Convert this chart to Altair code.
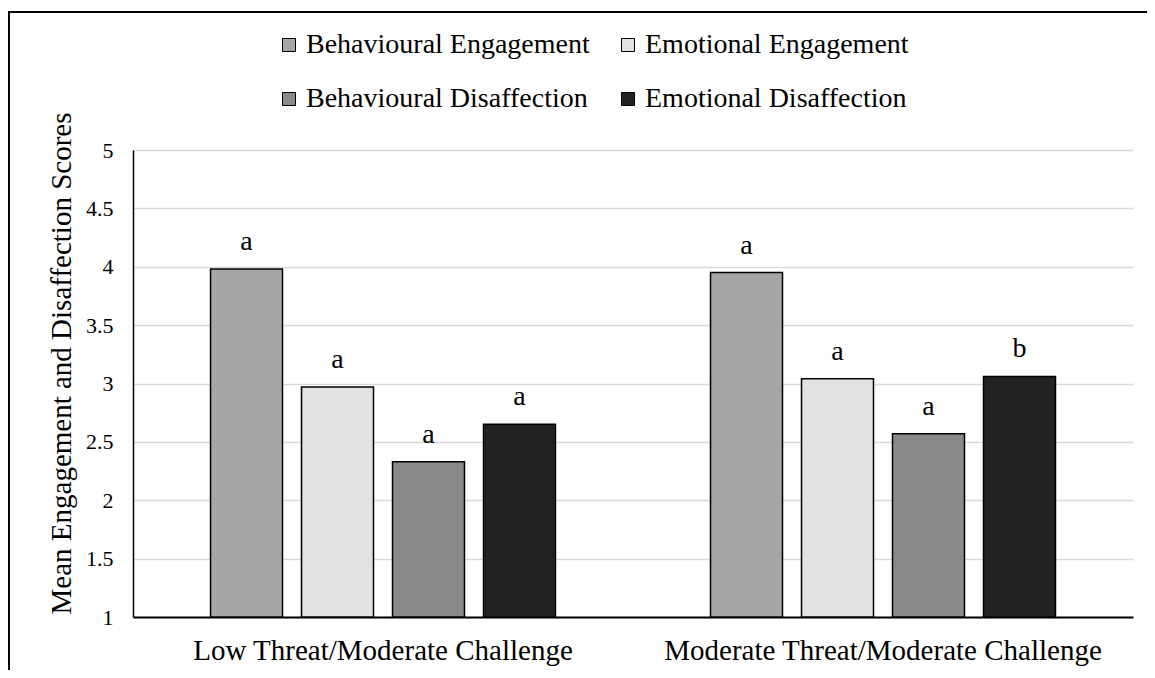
import altair as alt
import pandas as pd

groups = ["Low Threat/Moderate Challenge", "Moderate Threat/Moderate Challenge"]
series = ["Behavioural Engagement", "Emotional Engagement",
          "Behavioural Disaffection", "Emotional Disaffection"]
low_values = [3.98, 2.97, 2.33, 2.65]
moderate_values = [3.95, 3.04, 2.57, 3.06]
low_letters = ["a", "a", "a", "a"]
moderate_letters = ["a", "a", "a", "b"]
y_ticks = [1, 1.5, 2, 2.5, 3, 3.5, 4, 4.5, 5]
series_colors = ["#a6a6a6", "#e2e2e2", "#8a8a8a", "#222222"]

rows = []
for g, vals, lets in [(groups[0], low_values, low_letters),
                      (groups[1], moderate_values, moderate_letters)]:
    for s, v, l in zip(series, vals, lets):
        rows.append({"group": g, "series": s, "value": v, "letter": l})
df = pd.DataFrame(rows)

FONT = "Liberation Serif"

x_enc = alt.X(
    "group:N", sort=groups,
    scale=alt.Scale(paddingInner=0, paddingOuter=0),
    axis=alt.Axis(title=None, labelFont=FONT, labelFontSize=29, labelColor="black",
                  labelPadding=19, labelAngle=0, ticks=False, domainColor="black",
                  domainWidth=2, grid=False, labelLimit=0),
)
xo_enc = alt.XOffset("series:N", sort=series,
                     scale=alt.Scale(domain=series, paddingInner=0.209, paddingOuter=0.852))
y_enc = alt.Y(
    "value:Q",
    scale=alt.Scale(domain=[1, 5], zero=False, nice=False),
    axis=alt.Axis(values=y_ticks, labelExpr="'' + datum.value",
                  title="Mean Engagement and Disaffection Scores",
                  titleFont=FONT, titleFontSize=29, titleFontWeight="normal",
                  titleColor="black", titleX=-63, titleY=213, titleAngle=270,
                  titleAlign="center", titleBaseline="alphabetic",
                  labelFont=FONT, labelFontSize=22, labelColor="black", labelPadding=20,
                  ticks=False, domainColor="black", domainWidth=1.5,
                  gridColor="#d9d9d9", gridWidth=1.5),
)

bars = alt.Chart(df).mark_bar(stroke="black", strokeWidth=1.5).encode(
    x=x_enc, xOffset=xo_enc, y=y_enc, y2=alt.Y2(datum=1),
    color=alt.Color("series:N", sort=series,
                    scale=alt.Scale(domain=series, range=series_colors),
                    legend=alt.Legend(title=None, orient="none", legendX=142, legendY=-119,
                                      columns=2, direction="horizontal",
                                      symbolType="square", symbolSize=169,
                                      symbolStrokeColor="black", symbolStrokeWidth=1,
                                      labelFont=FONT, labelFontSize=28, labelColor="black",
                                      labelLimit=0, labelOffset=3, columnPadding=24,
                                      rowPadding=26, padding=0)),
)

letters = alt.Chart(df).mark_text(font=FONT, fontSize=28, baseline="alphabetic",
                                  dy=-19, color="black").encode(
    x=x_enc, xOffset=xo_enc, y=y_enc, text="letter:N"
)

frame_df = pd.DataFrame({"k": [0]})
left_line = alt.Chart(frame_df).mark_rule(color="black", strokeWidth=2).encode(
    x=alt.value(-124), y=alt.value(-138), y2=alt.value(520)
)
top_line = alt.Chart(frame_df).mark_rule(color="black", strokeWidth=2).encode(
    x=alt.value(-125), x2=alt.value(1014), y=alt.value(-138)
)

chart = alt.layer(bars, letters, left_line, top_line).properties(
    width=1000, height=467,
    autosize=alt.AutoSizeParams(type="none"),
    padding={"left": 125, "top": 142, "right": 14, "bottom": 53},
).configure(font=FONT).configure_view(stroke=None).configure_legend(
    labelFont=FONT
).configure_axis(labelFont=FONT, titleFont=FONT)

chart.save("out.html", embed_options={"renderer": "svg", "actions": False})
